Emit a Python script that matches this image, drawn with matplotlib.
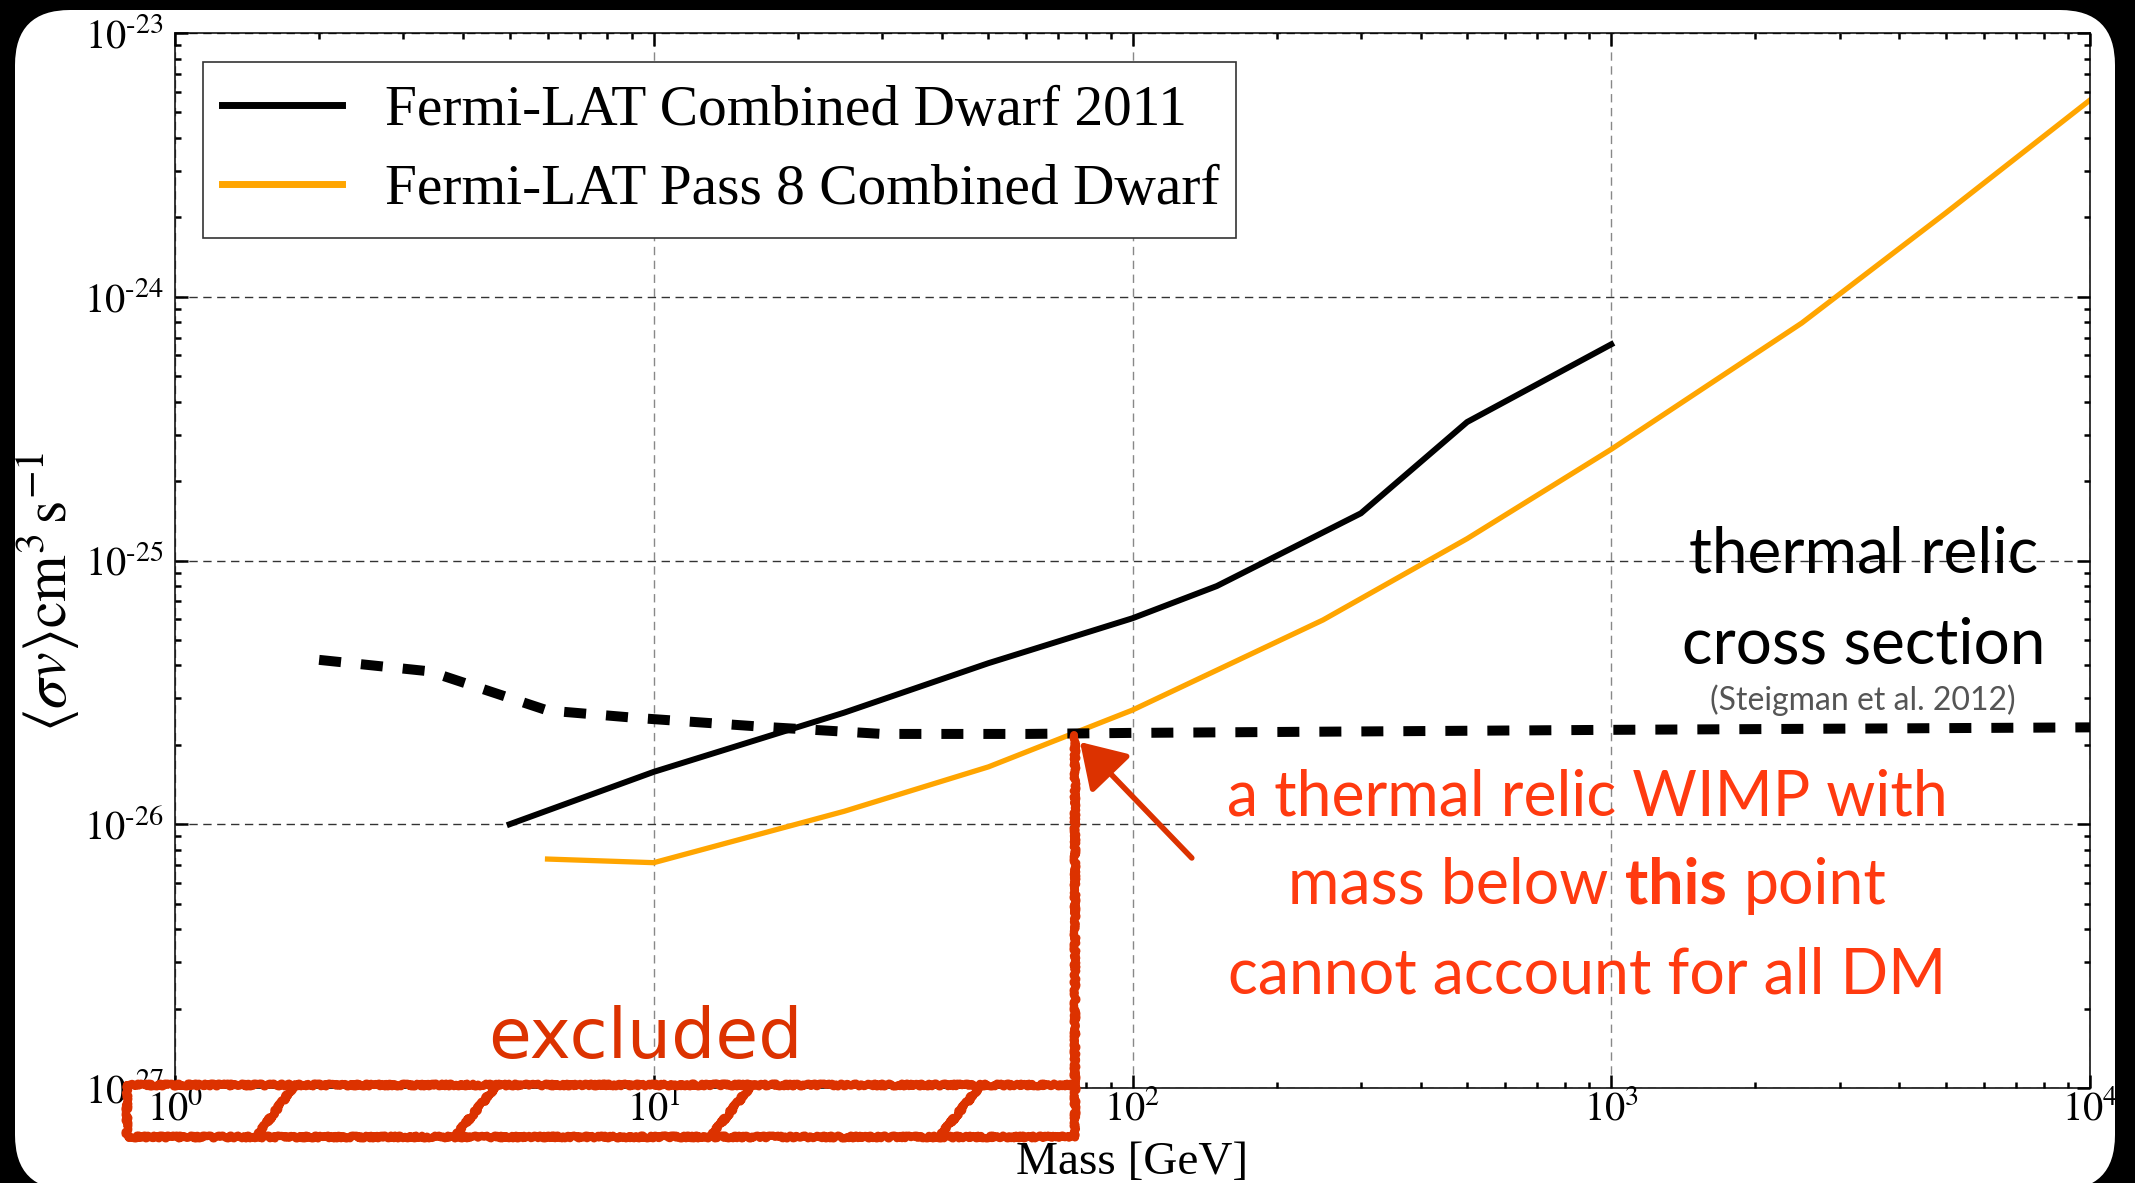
import numpy as np
import matplotlib
matplotlib.use('Agg')
import matplotlib.pyplot as plt
from matplotlib.patches import FancyBboxPatch, Rectangle
from matplotlib.transforms import IdentityTransform
from matplotlib.ticker import LogLocator, FuncFormatter, NullFormatter
from matplotlib.offsetbox import TextArea, HPacker, AnnotationBbox

plt.rcParams['font.family'] = 'Liberation Serif'
plt.rcParams['mathtext.fontset'] = 'stix'

# Fermi-LAT combined dwarf limit (2011)
mass_2011 = [5, 10, 25, 50, 100, 150, 300, 500, 1000]
sv_2011 = [1.0e-26, 1.58e-26, 2.65e-26, 4.08e-26, 6.04e-26, 8.0e-26, 1.51e-25, 3.35e-25, 6.6e-25]

# Fermi-LAT Pass 8 combined dwarf limit
mass_p8 = [6, 10, 25, 50, 100, 250, 500, 1000, 2500, 5000, 10000]
sv_p8 = [7.38e-27, 7.15e-27, 1.12e-26, 1.65e-26, 2.71e-26, 5.95e-26, 1.21e-25, 2.64e-25, 7.95e-25, 2.08e-24, 5.57e-24]

# thermal relic cross section (Steigman et al. 2012)
mass_relic = [2.0, 3.4, 6.0, 9.2, 17, 30, 60, 100, 1000, 10000]
sv_relic = [4.2e-26, 3.8e-26, 2.7e-26, 2.53e-26, 2.34e-26, 2.2e-26, 2.2e-26, 2.22e-26, 2.28e-26, 2.33e-26]

# hand-drawn annotation: crossing point and "excluded" box
cross_mass, cross_sv = 75.9, 2.18e-26
box_left, box_top, box_bottom = 0.794, 1.03e-27, 6.5e-28
hatch_bottom = [1.476, 3.83, 13.1, 39.4]
hatch_top = [1.781, 4.71, 16.04, 48.3]

RED_PEN = '#dc3200'
RED_TXT = '#ff3a10'

fig = plt.figure(figsize=(21.35, 11.83), dpi=100)
fig.patch.set_facecolor('black')
card = FancyBboxPatch((15, -7), 2100, 1180, boxstyle='round,pad=0,rounding_size=55',
                      transform=IdentityTransform(), facecolor='white', edgecolor='none', zorder=-10)
fig.add_artist(card)

ax = fig.add_axes([175 / 2135, 1 - 1088 / 1183, 1915 / 2135, 1055 / 1183])
ax.set_xscale('log')
ax.set_yscale('log')
ax.set_xlim(1, 1e4)
ax.set_ylim(1e-27, 1e-23)

ax.plot(mass_2011, sv_2011, color='black', lw=4.3, label='Fermi-LAT Combined Dwarf 2011')
ax.plot(mass_p8, sv_p8, color='orange', lw=3.8, label='Fermi-LAT Pass 8 Combined Dwarf')
ax.plot(mass_relic, sv_relic, color='black', lw=7.2, dashes=(2.2, 2.0))

# ticks
for axis in (ax.xaxis, ax.yaxis):
    axis.set_major_locator(LogLocator(base=10, numticks=10))
    axis.set_minor_locator(LogLocator(base=10, subs=np.arange(2, 10), numticks=20))
    axis.set_minor_formatter(NullFormatter())
ax.xaxis.set_major_formatter(FuncFormatter(lambda v, p: r'$10^{%d}$' % round(np.log10(v))))
ax.yaxis.set_major_formatter(FuncFormatter(lambda v, p: r'$10^{\text{-}%d}$' % -round(np.log10(v))))
ax.tick_params(which='both', direction='in', top=True, right=True, width=1.8)
ax.tick_params(which='major', length=9.5, labelsize=29)
ax.tick_params(which='minor', length=4.5)
ax.tick_params(axis='y', pad=8)
ax.tick_params(axis='x', pad=2)
for s in ax.spines.values():
    s.set_linewidth(1.1)

ax.grid(True, which='major', axis='x', ls=(0, (6, 4)), color='#888888', lw=1.0)
ax.grid(True, which='major', axis='y', ls=(0, (6, 4)), color='#333333', lw=1.0)

ax.set_xlabel('Mass [GeV]', fontsize=34, labelpad=9)
ax.set_ylabel(r'$\langle\sigma v\rangle\mathrm{cm}^3\,\mathrm{s}^{-1}$', fontsize=43, labelpad=2)
ax.yaxis.label.set_y(0.47)

# legend
ax.add_patch(Rectangle((0.0146, 0.8057), 0.554 - 0.0146, 0.9725 - 0.8057, transform=ax.transAxes,
                       facecolor='white', edgecolor='#333333', lw=1.2, zorder=4))
leg = ax.legend(loc='upper left', bbox_to_anchor=((222 - 175) / 1915, (1088 - 85) / 1055),
                frameon=False, borderpad=0, borderaxespad=0, handlelength=2.1,
                handletextpad=0.74, labelspacing=0.46, prop={'family': 'Liberation Serif', 'size': 41.3})
leg.set_zorder(5)
for ln in leg.get_lines():
    ln.set_linewidth(5)

# thermal relic label
ax.text(0.882, 0.489, 'thermal relic', transform=ax.transAxes, ha='center', va='baseline',
        fontsize=46, family='Lato', color='black')
ax.text(0.882, 0.4028, 'cross section', transform=ax.transAxes, ha='center', va='baseline',
        fontsize=46, family='Lato', color='black')
ax.text(0.8815, 0.3583, '(Steigman et al. 2012)', transform=ax.transAxes, ha='center', va='baseline',
        fontsize=23, family='Lato', color='#555555')

# red annotation text
txt = dict(fontsize=45, family='Lato', color=RED_TXT)
bold = dict(txt, fontweight='bold')
lines = [
    [TextArea('a thermal relic WIMP with', textprops=txt)],
    [TextArea('mass below', textprops=txt), TextArea('this', textprops=bold), TextArea('point', textprops=txt)],
    [TextArea('cannot account for all DM', textprops=txt)],
]
for parts, yc in zip(lines, [0.2749, 0.1915, 0.1071]):
    pack = HPacker(children=parts, align='baseline', pad=0, sep=12)
    ab = AnnotationBbox(pack, (0.7373, yc), xycoords='axes fraction', box_alignment=(0.5, 0.5),
                        frameon=False, zorder=6)
    ax.add_artist(ab)

# hand-drawn "excluded" box
pen = dict(color=RED_PEN, lw=5.8, clip_on=False, zorder=10, solid_capstyle='round', solid_joinstyle='round')
strokes = []
strokes += ax.plot([box_left, cross_mass], [box_top, box_top], **pen)
strokes += ax.plot([box_left, box_left, cross_mass], [box_top, box_bottom, box_bottom], **pen)
strokes += ax.plot([cross_mass, cross_mass], [box_bottom, cross_sv], **pen)
for xb, xt in zip(hatch_bottom, hatch_top):
    strokes += ax.plot([xb, xt], [box_bottom, box_top], **pen)
for s in strokes:
    s.set_sketch_params(scale=1.5, length=6, randomness=5)

ax.text(0.2454, 0.0284, 'excluded', transform=ax.transAxes, ha='center', va='baseline',
        fontsize=50, family='DejaVu Sans', color=RED_PEN, zorder=10)

arr = ax.annotate('', xy=(77.7, 2.05e-26), xytext=(133, 7.45e-27),
                  arrowprops=dict(arrowstyle='-|>,head_length=1.35,head_width=0.85', lw=4,
                                  color=RED_PEN, shrinkA=0, shrinkB=0, mutation_scale=20),
                  zorder=10)

fig.savefig('out.png', dpi=100, facecolor=fig.get_facecolor())
